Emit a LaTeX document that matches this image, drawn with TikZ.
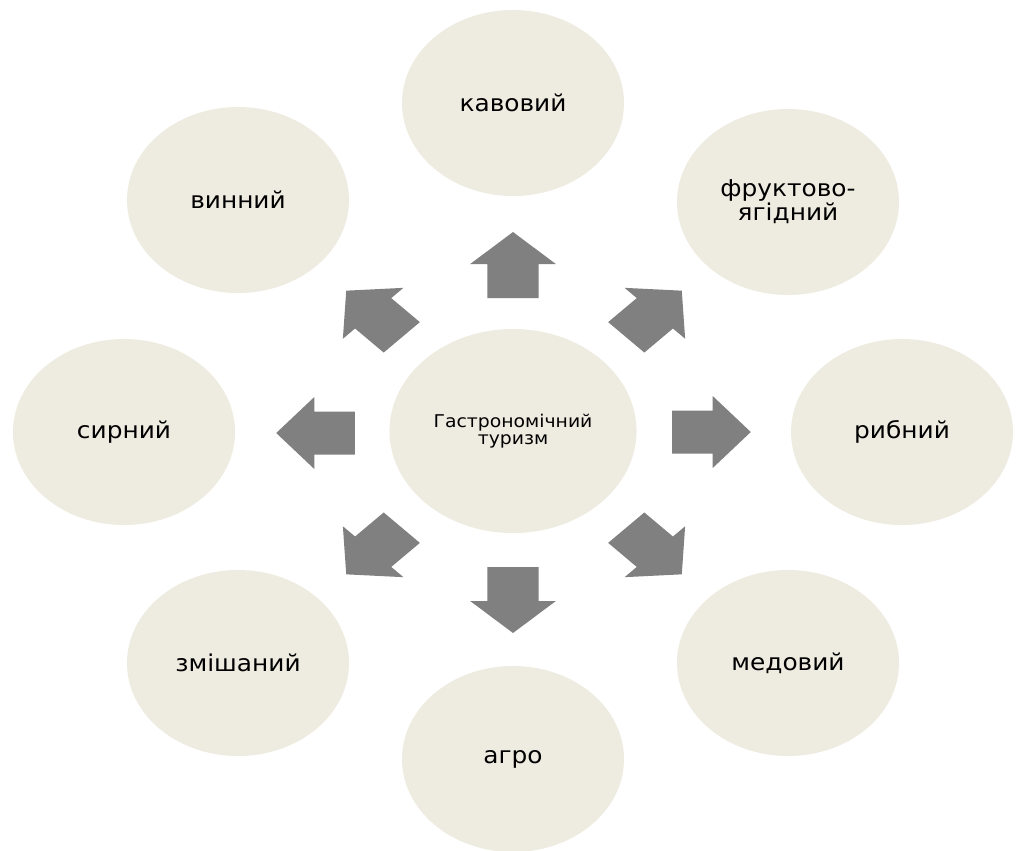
\documentclass[tikz,border=0pt]{standalone}
\usepackage{fontspec}
\setmainfont[FakeStretch=1.07]{DejaVu Sans}
\usetikzlibrary{shapes.geometric}
\usepackage{xcolor}
\definecolor{tanfill}{HTML}{EEECE1}
\definecolor{arrowgray}{HTML}{808080}

\begin{document}
\begin{tikzpicture}[x=0.025cm, y=-0.025cm,
  every node/.style={
    ellipse,
    inner sep=0pt,
    fill=tanfill,
    align=center
  },
  hub/.style={minimum width=6.175cm, minimum height=5.1cm, font=\fontsize{12.5}{11.8}\selectfont},
  kind/.style={minimum width=5.55cm, minimum height=4.65cm, font=\fontsize{16.5}{12.6}\selectfont},
  blockarrow/.pic={
    \fill[arrowgray] (-33,-21.5) -- (1,-21.5) -- (1,-36) -- (33,0) -- (1,36) -- (1,21.5) -- (-33,21.5) -- cycle;
  }]

    \useasboundingbox (0,0) rectangle (1016,850);

    \node (gastro) [hub] at (513,431)
    {
        Гастрономічний\\туризм
    };

    \node (kavovyi) [kind] at (513,103) {кавовий};
    \node (fruktovo) [kind] at (788,202) {фруктово-\\ягідний};
    \node (rybnyi) [kind] at (902,432) {рибний};
    \node (medovyi) [kind] at (788,663) {медовий};
    \node (agro) [kind] at (513,759) {агро};
    \node (zmishanyi) [kind] at (238,663) {змішаний};
    \node (syrnyi) [kind] at (124,432) {сирний};
    \node (vynnyi) [kind] at (238,200) {винний};



    \pic [xscale=1.19, rotate=90] at (513,265) {blockarrow};
    \pic [xscale=1.19, rotate=45] at (654,314) {blockarrow};
    \pic [xscale=1.19, rotate=0] at (711.5,432) {blockarrow};
    \pic [xscale=1.19, rotate=-45] at (654,551) {blockarrow};
    \pic [xscale=1.19, rotate=-90] at (513,600) {blockarrow};
    \pic [xscale=1.19, rotate=-135] at (374,551) {blockarrow};
    \pic [xscale=1.19, rotate=180] at (315.5,433) {blockarrow};
    \pic [xscale=1.19, rotate=135] at (374,314) {blockarrow};


\end{tikzpicture}
\end{document}
